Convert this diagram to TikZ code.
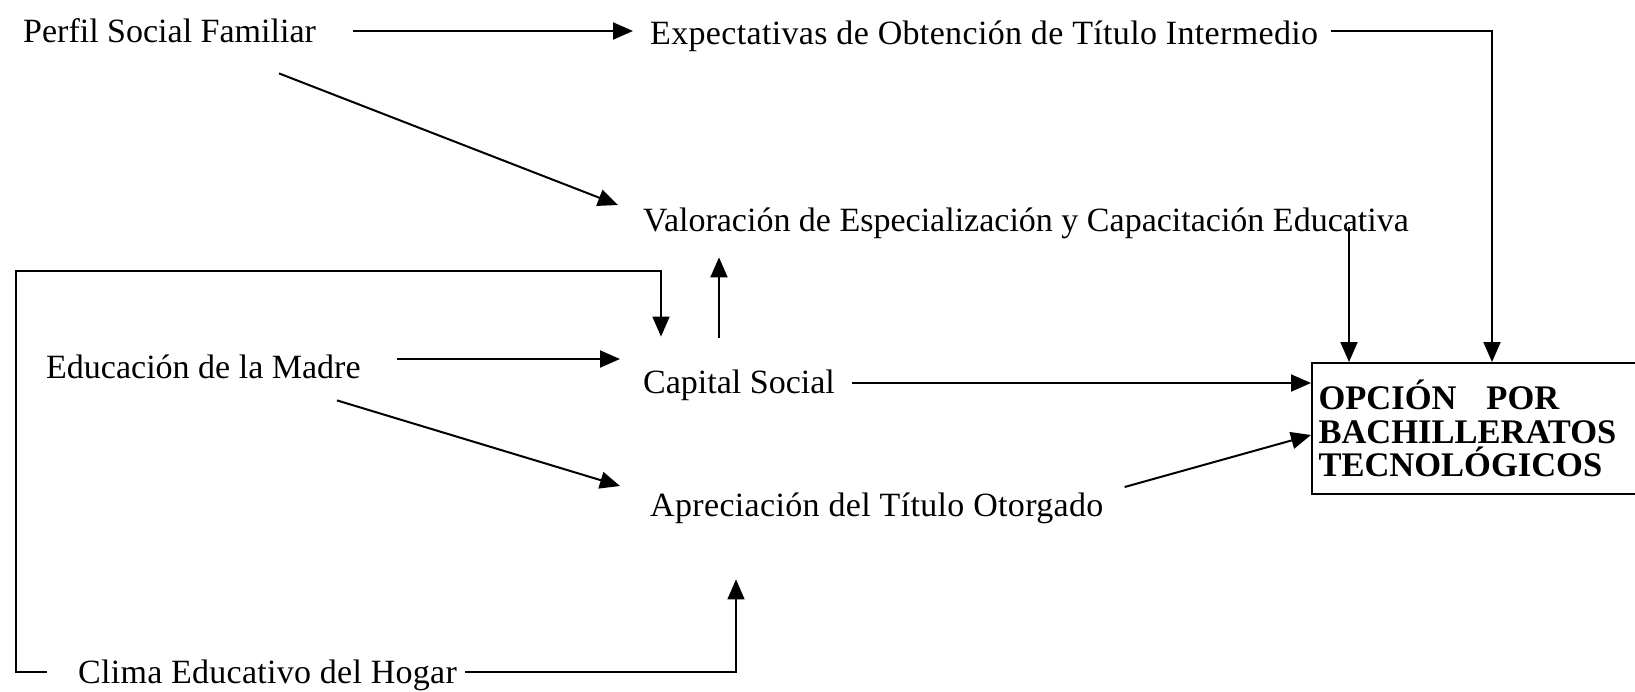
\documentclass[tikz,border=0pt]{standalone}
\usepackage{fontspec}
\setmainfont{Liberation Serif}
\usetikzlibrary{arrows.meta,calc}
\begin{document}
\begin{tikzpicture}[x=1pt,y=-1pt,
  lbl/.style={inner sep=0pt, anchor=west, text height=22.4pt, text depth=0pt, font=\fontsize{34pt}{40pt}\selectfont},
  arr/.style={line width=2pt, -{Triangle[length=20pt,width=17pt]}},
  thinarr/.style={line width=1.6pt, -{Triangle[length=20pt,width=17pt]}},
  boxnode/.style={draw, line width=2pt, anchor=north west, minimum width=324pt, minimum height=131pt, text width=311pt, inner xsep=6.5pt, align=left, font=\fontsize{34.5pt}{33.5pt}\selectfont\bfseries}]
\useasboundingbox (0,0) rectangle (1635,691);
\node[lbl] (perfil) at (23,31) {Perfil Social Familiar};
\node[lbl] (expect) at (650,33) {\addfontfeature{LetterSpace=1.0}Expectativas de Obtención de Título Intermedio};
\node[lbl] (valor) at (643,220) {Valoración de Especialización y Capacitación Educativa};
\node[lbl] (educ) at (46,367) {Educación de la Madre};
\node[lbl] (capital) at (643,382) {Capital Social};
\node[lbl] (aprec) at (650,505) {\addfontfeature{LetterSpace=1.0}Apreciación del Título Otorgado};
\node[lbl] (clima) at (78,672) {\addfontfeature{LetterSpace=0.8}Clima Educativo del Hogar};
\node[boxnode] (box) at (1311,362) {OPCIÓN\hspace{30pt}POR\\BACHILLERATOS\\TECNOLÓGICOS};
\coordinate (bl) at (16,271);

\draw[arr] ($(perfil.east)+(37,0)$) -- ($(expect.west |- perfil.east)+(-17,0)$);
\draw[arr] ($(expect.east)+(13,-2)$) -| ($(box.north)+(18,0)$);
\draw[arr] ($(perfil.south west)+(256,31)$) -- ($(valor.west)+(-25,-15)$);
\draw[arr] ($(box.north |- valor.south)+(-125,-4)$) -- ($(box.north)+(-125,0)$);
\draw[thinarr] ($(clima.west)+(-31,0)$) -| (bl) -| ($(capital.north west)+(18,-34)$);
\draw[arr] ($(capital.north west)+(76,-33)$) -- ($(valor.south west)+(76,26)$);
\draw[arr] ($(educ.east)+(36,-8)$) -- ($(capital.west)+(-23,-23)$);
\draw[arr] ($(educ.south west)+(291,22)$) -- ($(aprec.west)+(-30,-19)$);
\draw[arr] ($(capital.east)+(17,1)$) -- ($(box.north west)+(0,21)$);
\draw[arr] ($(aprec.east)+(21,-18)$) -- ($(box.north west)+(0,73)$);
\draw[thinarr] ($(clima.east)+(8,0)$) -| ($(aprec.south west)+(86,63)$);
\end{tikzpicture}
\end{document}
